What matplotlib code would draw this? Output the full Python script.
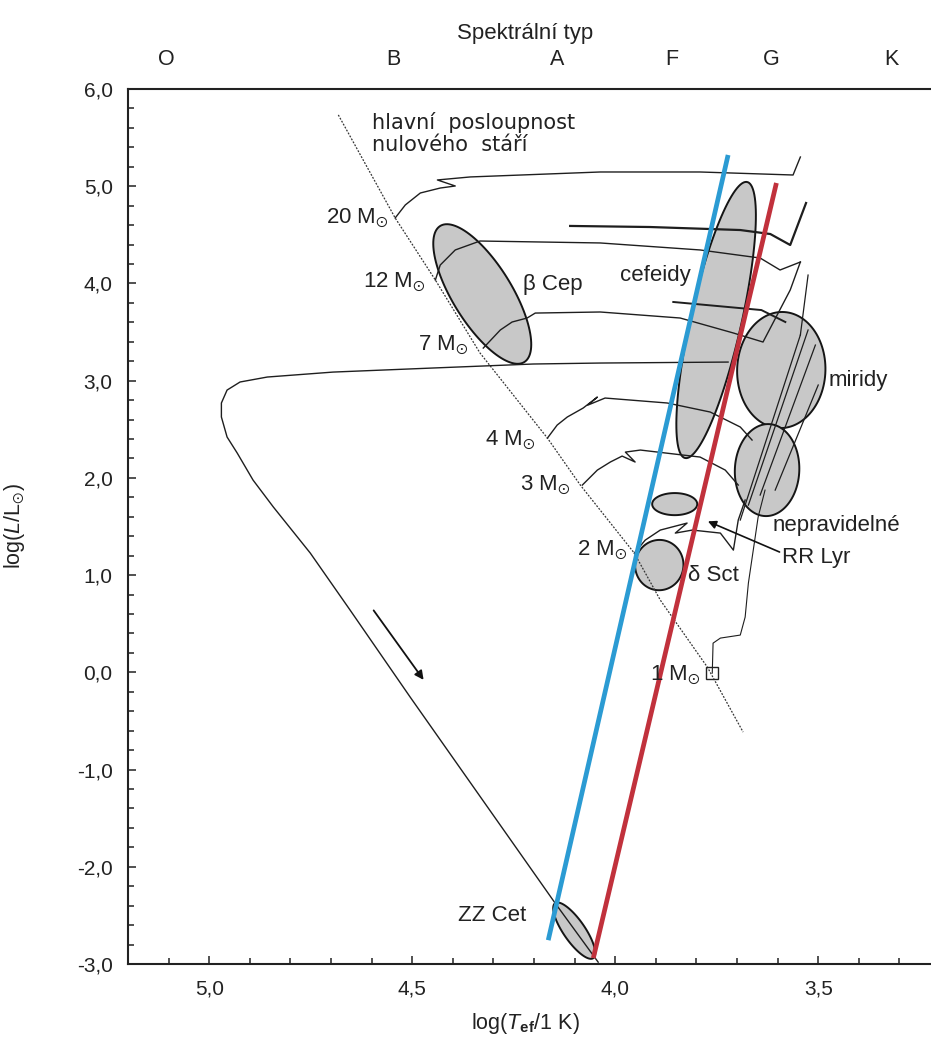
import matplotlib.pyplot as plt
import numpy as np
from matplotlib.ticker import MultipleLocator, FuncFormatter

# ---- data (log T_ef, log L/Lsun) ----
zams_T = [4.682, 4.542, 4.443, 4.333, 4.167, 4.086, 3.953, 3.889, 3.773, 3.685]
zams_L = [5.733, 4.673, 4.035, 3.284, 2.409, 1.926, 1.226, 0.743, 0.053, -0.615]

blue_T = [4.165, 3.722]
blue_L = [-2.755, 5.321]
red_T = [4.054, 3.603]
red_L = [-2.940, 5.033]

# post-AGB / white dwarf track
wd_T = [3.722, 4.037, 4.202, 4.448, 4.695, 4.857, 4.924, 4.956, 4.970, 4.970,
        4.956, 4.931, 4.892, 4.842, 4.751, 4.653, 4.505, 4.148, 4.042]
wd_L = [3.191, 3.181, 3.171, 3.130, 3.088, 3.037, 2.986, 2.903, 2.770, 2.626,
        2.420, 2.255, 1.977, 1.700, 1.226, 0.640, -0.255, -2.374, -2.981]

trk20_T = [4.542, 4.517, 4.480, 4.431, 4.394, 4.438, 4.357, 4.037, 3.791, 3.562, 3.552, 3.544]
trk20_L = [4.673, 4.807, 4.930, 4.981, 5.002, 5.064, 5.095, 5.146, 5.146, 5.115, 5.218, 5.300]

trk12a_T = [4.443, 4.431, 4.394, 4.333, 4.037, 3.791, 3.643, 3.594, 3.544]
trk12a_L = [4.035, 4.189, 4.344, 4.436, 4.416, 4.344, 4.261, 4.138, 4.220]
trk12b_T = [4.111, 3.914, 3.692, 3.618, 3.569, 3.530]
trk12b_L = [4.591, 4.580, 4.549, 4.508, 4.395, 4.827]

trk7a_T = [4.325, 4.283, 4.254, 4.217, 4.197, 4.037, 3.840, 3.709, 3.636, 3.569, 3.544]
trk7a_L = [3.335, 3.521, 3.603, 3.644, 3.695, 3.706, 3.644, 3.490, 3.397, 3.932, 4.220]
trk7b_T = [3.857, 3.640, 3.581]
trk7b_L = [3.809, 3.726, 3.603]

trk4_T = [4.167, 4.143, 4.118, 4.079, 4.044, 4.067, 4.025, 3.872, 3.766, 3.692, 3.663]
trk4_L = [2.409, 2.543, 2.626, 2.718, 2.831, 2.749, 2.821, 2.770, 2.677, 2.523, 2.389]

trk3_T = [4.081, 4.044, 4.012, 3.983, 3.951, 3.975, 3.938, 3.791, 3.729, 3.697]
trk3_L = [1.926, 2.080, 2.163, 2.224, 2.163, 2.265, 2.286, 2.214, 2.080, 1.926]

trk2_T = [3.953, 3.926, 3.889, 3.823, 3.852, 3.810, 3.741, 3.709, 3.697, 3.680]
trk2_L = [1.226, 1.360, 1.463, 1.535, 1.432, 1.463, 1.432, 1.257, 1.566, 1.772]

trk1_T = [3.761, 3.759, 3.741, 3.692, 3.680, 3.672, 3.660, 3.648, 3.631]
trk1_L = [-0.008, 0.300, 0.352, 0.383, 0.568, 0.918, 1.257, 1.597, 1.874]

# giant branch strokes inside the Mira / irregular zones
giant_T0 = [3.692, 3.672, 3.643, 3.606, 3.544]
giant_L0 = [1.566, 1.720, 1.823, 1.874, 3.469]
giant_T1 = [3.544, 3.525, 3.507, 3.500, 3.525]
giant_L1 = [3.469, 3.521, 3.366, 2.955, 4.086]

# variable star zones: ends of the long axis + axis ratio
zone_names = ['beta Cep', 'cefeidy', 'miridy', 'nepravidelne', 'RR Lyr', 'delta Sct', 'ZZ Cet']
zone_T1 = [4.431, 3.675, 3.586, 3.621, 3.909, 3.884, 4.148]
zone_L1 = [4.591, 5.043, 3.706, 2.553, 1.730, 1.360, -2.374]
zone_T2 = [4.224, 3.828, 3.596, 3.631, 3.798, 3.899, 4.054]
zone_L2 = [3.191, 2.204, 2.512, 1.607, 1.730, 0.846, -2.940]
zone_ratio = [0.37, 0.18, 0.76, 0.70, 0.49, 0.96, 0.32]

spec_T = [5.106, 4.547, 4.143, 3.860, 3.616, 3.320]
spec_lbl = ['O', 'B', 'A', 'F', 'G', 'K']

mass_lbl = ['20', '12', '7', '4', '3', '2', '1']
mass_T = [4.559, 4.468, 4.362, 4.197, 4.111, 3.970, 3.791]
mass_L = [4.621, 3.963, 3.315, 2.337, 1.874, 1.206, -0.080]

sun_T, sun_L = 3.761, -0.008

plt.rcParams['font.family'] = ['Liberation Sans', 'DejaVu Sans']
plt.rcParams['mathtext.fontset'] = 'custom'
plt.rcParams['mathtext.rm'] = 'Liberation Sans'
plt.rcParams['mathtext.it'] = 'Liberation Sans:italic'
plt.rcParams['mathtext.bf'] = 'Liberation Sans:bold'
plt.rcParams['mathtext.fallback'] = 'stix'

fig = plt.figure(figsize=(9.31, 10.38), dpi=100)
ax = fig.add_axes([0.1375, 0.0713, 0.8722, 0.8430])
ax.set_xlim(5.2, 3.2)
ax.set_ylim(-3, 6)

comma = FuncFormatter(lambda v, p: f'{v:.1f}'.replace('.', ','))
ax.set_xticks([5.0, 4.5, 4.0, 3.5])
ax.xaxis.set_minor_locator(MultipleLocator(0.1))
ax.set_yticks(np.arange(-3, 7))
ax.yaxis.set_minor_locator(MultipleLocator(0.2))
ax.xaxis.set_major_formatter(comma)
ax.yaxis.set_major_formatter(comma)
ax.tick_params(which='both', direction='in', top=True, right=False, width=1.1, color='#222')
ax.tick_params(which='major', length=6, labelsize=15, labelcolor='#222')
ax.tick_params(which='minor', length=4)
ax.tick_params(axis='x', pad=11)
ax.tick_params(axis='y', pad=11)
ax.spines['right'].set_visible(False)
for s in ['left', 'top', 'bottom']:
    ax.spines[s].set_linewidth(1.5)
    ax.spines[s].set_color('#222')

ax.set_xlabel(r'log($\mathit{T}_{\mathbf{ef}}$/1 K)', fontsize=15.5, color='#222')
ax.xaxis.set_label_coords(0.489, -0.054)
ax.set_ylabel(r'log($\mathit{L}$/L$_{\odot}$)', fontsize=15.5, color='#222')
ax.yaxis.set_label_coords(-0.125, 0.5)

ax2 = ax.twiny()
ax2.set_xlim(ax.get_xlim())
ax2.set_xticks(spec_T)
ax2.set_xticklabels(spec_lbl)
ax2.tick_params(length=0, pad=14, labelsize=15.5, labelcolor='#222')
for s in ax2.spines.values():
    s.set_visible(False)
ax2.set_xlabel('Spektrální typ', fontsize=16, color='#222')
ax2.xaxis.set_label_coords(0.489, 1.057)


def zone_outline(p1, p2, ratio, n=120):
    tr = ax.transData
    a = tr.transform(p1)
    b = tr.transform(p2)
    c = (a + b) / 2
    u = (b - a) / 2
    v = np.array([-u[1], u[0]]) * ratio
    t = np.linspace(0, 2 * np.pi, n)
    pts = c + np.outer(np.cos(t), u) + np.outer(np.sin(t), v)
    return tr.inverted().transform(pts)


for i in range(len(zone_names)):
    pts = zone_outline((zone_T1[i], zone_L1[i]), (zone_T2[i], zone_L2[i]), zone_ratio[i])
    ax.fill(pts[:, 0], pts[:, 1], facecolor='#c8c8c8', edgecolor='#151515', lw=1.4, zorder=1)

trk = dict(color='#1e1e1e', lw=1.0, zorder=2)
ax.plot(wd_T, wd_L, **trk)
ax.plot(trk20_T, trk20_L, **trk)
ax.plot(trk12a_T, trk12a_L, **trk)
ax.plot(trk12b_T, trk12b_L, color='#1e1e1e', lw=1.6, zorder=2)
ax.plot(trk7a_T, trk7a_L, **trk)
ax.plot(trk7b_T, trk7b_L, color='#1e1e1e', lw=1.4, zorder=2)
ax.plot(trk4_T, trk4_L, **trk)
ax.plot(trk3_T, trk3_L, **trk)
ax.plot(trk2_T, trk2_L, **trk)
ax.plot(trk1_T, trk1_L, color='#1e1e1e', lw=0.8, zorder=2)
for i in range(len(giant_T0)):
    ax.plot([giant_T0[i], giant_T1[i]], [giant_L0[i], giant_L1[i]], color='#1e1e1e', lw=0.9, zorder=2)

ax.plot(zams_T, zams_L, color='#333', lw=0.9, ls=(0, (1.5, 1.2)), zorder=2)
ax.plot(sun_T, sun_L, marker='s', ms=8, mfc='none', mec='#222', mew=1.0, zorder=3)

ax.plot(blue_T, blue_L, color='#2b9bd3', lw=3.4, solid_capstyle='butt', zorder=3)
ax.plot(red_T, red_L, color='#c1313c', lw=3.4, solid_capstyle='butt', zorder=3)

# direction of evolution and RR Lyr pointer
ax.annotate('', xy=(4.468, -0.101), xytext=(4.599, 0.660),
            arrowprops=dict(arrowstyle='-|>', lw=1.3, color='#111', mutation_scale=13))
ax.annotate('', xy=(3.778, 1.564), xytext=(3.589, 1.226),
            arrowprops=dict(arrowstyle='-|>', lw=1.2, color='#111', mutation_scale=12))

txt = dict(fontsize=16, color='#222')
ax.text(4.599, 5.54, 'hlavní  posloupnost\nnulového  stáří', ha='left', va='center',
        family='DejaVu Sans', fontsize=15, color='#222', linespacing=1.15)
for m, t, l in zip(mass_lbl, mass_T, mass_L):
    ax.text(t, l, m + r' M$_{\odot}$', ha='right', va='baseline', **txt)

ax.text(4.227, 3.984, 'β Cep', ha='left', va='center', **txt)
ax.text(3.988, 4.086, 'cefeidy', ha='left', va='center', **txt)
ax.text(3.475, 3.006, 'miridy', ha='left', va='center', **txt)
ax.text(3.613, 1.514, 'nepravidelné', ha='left', va='center', **txt)
ax.text(3.589, 1.185, 'RR Lyr', ha='left', va='center', **txt)
ax.text(3.820, 1.000, 'δ Sct', ha='left', va='center', **txt)
ax.text(4.387, -2.498, 'ZZ Cet', ha='left', va='center', **txt)

fig.savefig('out.png', dpi=100)
